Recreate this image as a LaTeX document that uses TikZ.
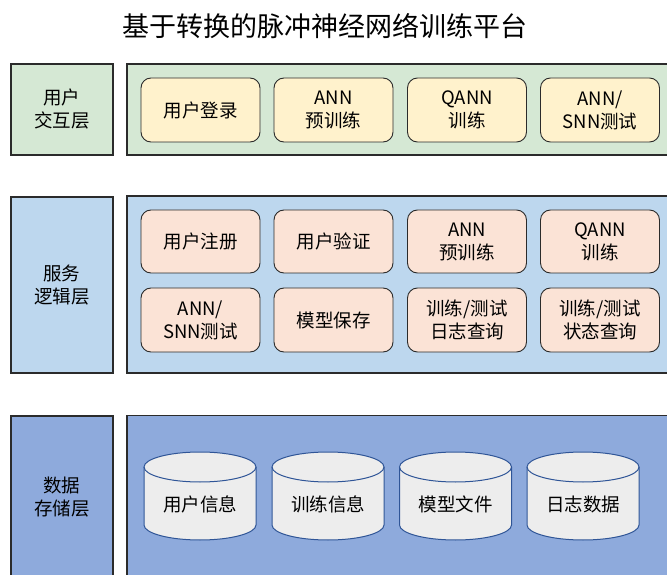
\documentclass[tikz,border=0pt]{standalone}
\usepackage{fontspec}
\setmainfont{Noto Sans CJK SC}
\definecolor{grnfill}{HTML}{D5E8D4}
\definecolor{yelfill}{HTML}{FFF2CC}
\definecolor{bluefill}{HTML}{BDD7EE}
\definecolor{peachfill}{HTML}{FBE3D6}
\definecolor{darkblue}{HTML}{8EAADC}
\definecolor{cylfill}{HTML}{EDEDED}
\definecolor{cylline}{HTML}{2F5597}
\definecolor{edge}{HTML}{2B2B2B}
\tikzset{
  txt/.style={font=\fontsize{18.5}{23}\selectfont, align=center, text=black},
  layerbox/.style={draw=edge, line width=1.2pt},
  funcbox/.style={draw=edge, line width=0.9pt, rounded corners=10pt, minimum width=119pt, minimum height=64pt, txt},
}
\newcommand\dbcyl[3]{%
  \fill[cylfill] ({#2-56},107) -- ({#2-56},49) arc[start angle=180,end angle=360,x radius=56,y radius=15] -- ({#2+56},107) arc[start angle=0,end angle=180,x radius=56,y radius=15] -- cycle;
  \draw[cylline, line width=1pt] ({#2-56},107) -- ({#2-56},49) arc[start angle=180,end angle=360,x radius=56,y radius=15] -- ({#2+56},107);
  \draw[cylline, line width=1pt] (#2,107) ellipse[x radius=56,y radius=15];
  \node[txt] (#1) at (#2,70) {#3};
}
\begin{document}
\begin{tikzpicture}[x=1pt,y=1pt]
\useasboundingbox (0,0) rectangle (667,574);
\clip (0,0) rectangle (667,574);
\fill[white] (0,0) rectangle (667,574);
% title
\node[font=\fontsize{27}{31}\selectfont] (title) at (325,548) {基于转换的脉冲神经网络训练平台};
% layer 1
\draw[layerbox, fill=grnfill] (11,510) rectangle (113,419);
\node[txt] (l1) at (62,464.5) {用户\\交互层};
\draw[layerbox, fill=grnfill] (127,510) rectangle (690,419);
\node[funcbox, fill=yelfill] (a1) at (200.5,464) {用户登录};
\node[funcbox, fill=yelfill] (a2) at (333.5,464) {ANN\\预训练};
\node[funcbox, fill=yelfill] (a3) at (467,464) {QANN\\训练};
\node[funcbox, fill=yelfill] (a4) at (600,464) {ANN/\\SNN测试};
% layer 2
\draw[layerbox, fill=bluefill] (11,377) rectangle (113,201);
\node[txt] (l2) at (62,289) {服务\\逻辑层};
\draw[layerbox, fill=bluefill] (127,378) rectangle (690,201);
\node[funcbox, fill=peachfill, minimum height=63pt] (b1) at (200.5,332.5) {用户注册};
\node[funcbox, fill=peachfill, minimum height=63pt] (b2) at (333.5,332.5) {用户验证};
\node[funcbox, fill=peachfill, minimum height=63pt] (b3) at (467,332.5) {ANN\\预训练};
\node[funcbox, fill=peachfill, minimum height=63pt] (b4) at (600,332.5) {QANN\\训练};
\node[funcbox, fill=peachfill] (b5) at (200.5,254) {ANN/\\SNN测试};
\node[funcbox, fill=peachfill] (b6) at (333.5,254) {模型保存};
\node[funcbox, fill=peachfill] (b7) at (467,254) {训练/测试\\日志查询};
\node[funcbox, fill=peachfill] (b8) at (600,254) {训练/测试\\状态查询};
% layer 3
\draw[layerbox, fill=darkblue] (11,158) rectangle (113,-10);
\node[txt] (l3) at (62,77) {数据\\存储层};
\draw[layerbox, fill=darkblue] (127,158.5) rectangle (690,-10);
\dbcyl{c1}{200}{用户信息}
\dbcyl{c2}{328}{训练信息}
\dbcyl{c3}{455.5}{模型文件}
\dbcyl{c4}{583}{日志数据}
\end{tikzpicture}
\end{document}
